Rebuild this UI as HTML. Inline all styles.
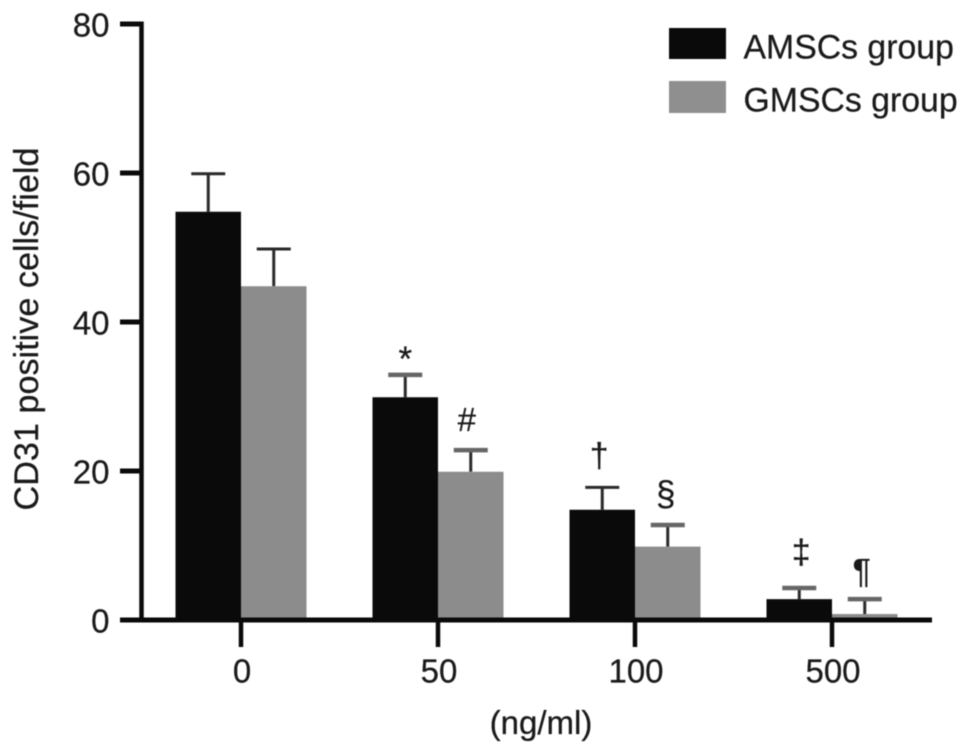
<!DOCTYPE html>
<html>
<head>
<meta charset="utf-8">
<style>
html,body{margin:0;padding:0;background:#fff;}
svg{display:block;filter:blur(.45px);}
text{font-family:"Liberation Sans",Arial,sans-serif;fill:#1a1a1a;stroke:#1a1a1a;stroke-width:.25px;}
</style>
</head>
<body>
<svg id="chart" width="969" height="755" viewBox="0 0 969 755" xmlns="http://www.w3.org/2000/svg"></svg>
<script>
const categories = ['0', '50', '100', '500'];
const amscValues = [54.8, 29.9, 14.8, 2.8];
const gmscValues = [44.8, 19.9, 9.85, 0.8];
const amscErrors = [5.1, 3, 3, 1.5];
const gmscErrors = [5, 2.9, 2.9, 2];
const amscMarks = ['', '*', '†', '‡'];
const gmscMarks = ['', '#', '§', '¶'];
const yTicks = [0, 20, 40, 60, 80];
const seriesNames = ['AMSCs group', 'GMSCs group'];

const markLayout = {
  '*': {size: 35, dx: 0, dy: 4},
  '#': {size: 33, dx: -4, dy: 19},
  '†': {size: 34, dx: -3, dy: 20.2},
  '§': {size: 35, dx: -2, dy: 19.5},
  '‡': {size: 34, dx: 2, dy: 24.5},
  '¶': {size: 34, dx: -3, dy: 16.5}
};
const paleCaps = new Set(['amsc-50', 'gmsc-50', 'gmsc-100', 'amsc-500', 'gmsc-500']);

const svg = document.getElementById('chart');
const NS = 'http://www.w3.org/2000/svg';
const y0 = 620, yTop = 24, axisX = 141.5;
const groupStart = 241, groupStep = 197, barW = 65.5;
const yScale = v => y0 - v * (y0 - yTop) / 80;
const xCenter = i => groupStart + i * groupStep;

function make(tag, attrs, text) {
  const el = document.createElementNS(NS, tag);
  for (const k in attrs) el.setAttribute(k, attrs[k]);
  if (text !== undefined) el.textContent = text;
  svg.appendChild(el);
  return el;
}

function drawBar(i, v, err, mark, left, color, label) {
  const x = left ? xCenter(i) - barW : xCenter(i);
  const cx = x + barW / 2;
  const topY = yScale(v), errY = yScale(v + err);
  const pale = paleCaps.has(label + '-' + categories[i]);
  const stem = make('line', {x1: cx, x2: cx, y1: topY, y2: errY, stroke: '#2a2a2a', 'stroke-width': 3});
  
  
  const cap = make('line', {x1: cx - 17, x2: cx + 17, y1: errY, y2: errY, stroke: pale ? '#666' : '#2a2a2a', 'stroke-width': pale ? 4.5 : 3});
  
  
  const bar = make('rect', {x: x, y: topY, width: barW, height: y0 - topY, fill: color});
  
  
  if (mark) {
    const m = markLayout[mark];
    const t = make('text', {x: cx + m.dx, y: errY - m.dy, 'text-anchor': 'middle', 'font-size': m.size}, mark);
    
    
  }
}

categories.forEach((c, i) => {
  drawBar(i, amscValues[i], amscErrors[i], amscMarks[i], true, '#0a0a0a', 'amsc');
  drawBar(i, gmscValues[i], gmscErrors[i], gmscMarks[i], false, '#8c8c8c', 'gmsc');
});

const yAxis = make('line', {x1: axisX, x2: axisX, y1: yTop - 2.5, y2: y0 + 2.5, stroke: '#0a0a0a', 'stroke-width': 4.5});


const xAxis = make('line', {x1: axisX, x2: 932, y1: y0, y2: y0, stroke: '#0a0a0a', 'stroke-width': 5});



yTicks.forEach(v => {
  const tick = make('line', {x1: 120, x2: axisX, y1: yScale(v), y2: yScale(v), stroke: '#0a0a0a', 'stroke-width': 5});
  
  
  const label = make('text', {x: 109.5, y: yScale(v) + 12.5, 'text-anchor': 'end', 'font-size': 33}, v);
  
  
});

categories.forEach((c, i) => {
  const tick = make('line', {x1: xCenter(i), x2: xCenter(i), y1: y0, y2: 647, stroke: '#0a0a0a', 'stroke-width': 4.5});
  
  
  const label = make('text', {x: xCenter(i) + 1, y: 682.5, 'text-anchor': 'middle', 'font-size': 33}, c);
  
  
});

const xTitle = make('text', {x: 541, y: 734, 'text-anchor': 'middle', 'font-size': 33}, '(ng/ml)');


const yTitle = make('text', {x: 38, y: 329, 'text-anchor': 'middle', 'font-size': 34.2, transform: 'rotate(-90 38 329)'}, 'CD31 positive cells/field');



const legendColors = ['#0a0a0a', '#8f8f8f'];
seriesNames.forEach((name, i) => {
  const swatch = make('rect', {x: 669, y: 28 + i * 53, width: 57, height: 31 + i, fill: legendColors[i]});
  
  
  const label = make('text', {x: 743.5, y: 58.5 + i * 53, 'font-size': 33.8}, name);
  
  
});
</script>
</body>
</html>
